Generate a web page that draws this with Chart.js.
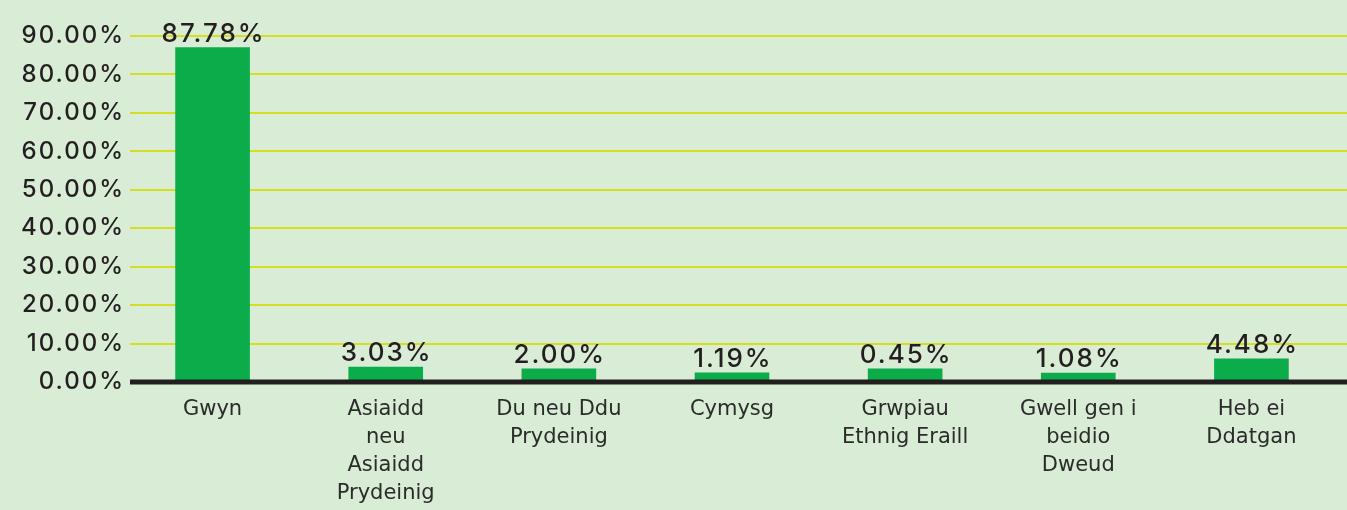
<!DOCTYPE html>
<html>
<head>
<meta charset="utf-8">
<script src="https://cdn.jsdelivr.net/npm/chart.js@4/dist/chart.umd.min.js"></script>
<style>
  html, body { margin: 0; padding: 0; background: #d9ecd6; }
  #wrap { width: 1347px; height: 510px; position: relative; }
</style>
</head>
<body>
<div id="wrap"><canvas id="c"></canvas></div>
<script>
// ---- data ----
const categories = [
  ["Gwyn"],
  ["Asiaidd", "neu", "Asiaidd", "Prydeinig"],
  ["Du neu Ddu", "Prydeinig"],
  ["Cymysg"],
  ["Grwpiau", "Ethnig Eraill"],
  ["Gwell gen i", "beidio", "Dweud"],
  ["Heb ei", "Ddatgan"]
];
// bar heights as drawn in the picture (percent)
const barValues = [87.0, 3.9, 3.4, 2.4, 3.4, 2.3, 6.0];
// value labels printed above the bars
const valueLabels = ["87.78%", "3.03%", "2.00%", "1.19%", "0.45%", "1.08%", "4.48%"];
const yTicks = [0, 10, 20, 30, 40, 50, 60, 70, 80, 90];

const GRID = '#d5df22';
const BAR = '#0dac4b';
const INK = '#231f20';
const NUMFONT = 'Inter, "DejaVu Sans", sans-serif';
const CATFONT = '"DejaVu Sans", Inter, sans-serif';

const gridPlugin = {
  id: 'gridPlugin',
  beforeDatasetsDraw(chart) {
    const ctx = chart.ctx, y = chart.scales.y;
    ctx.save();
    ctx.strokeStyle = GRID;
    ctx.lineWidth = 2;
    yTicks.forEach(v => {
      if (v === 0) return;
      const py = Math.round(y.getPixelForValue(v));
      ctx.beginPath();
      ctx.moveTo(130, py);
      ctx.lineTo(chart.width, py);
      ctx.stroke();
    });
    ctx.restore();
  },
  afterDatasetsDraw(chart) {
    const ctx = chart.ctx, y = chart.scales.y;
    ctx.save();
    const py = y.getPixelForValue(0);
    ctx.fillStyle = INK;
    ctx.fillRect(130, py - 2.5, chart.width - 130, 5);
    const meta = chart.getDatasetMeta(0);
    ctx.fillStyle = INK;
    ctx.letterSpacing = '2px';
    ctx.font = '500 26px ' + NUMFONT;
    ctx.textAlign = 'center';
    ctx.textBaseline = 'alphabetic';
    meta.data.forEach((bar, i) => {
      ctx.fillText(valueLabels[i], bar.x + 1, bar.y - 6);
    });
    ctx.restore();
  }
};

function spacedLabels(scale, spacing) {
  if (scale._spacedWrap) return;
  const orig = scale.drawLabels.bind(scale);
  scale.drawLabels = function (area) {
    const ctx = scale.ctx;
    ctx.save();
    ctx.letterSpacing = spacing;
    orig(area);
    ctx.restore();
  };
  scale._spacedWrap = true;
}

new Chart(document.getElementById('c'), {
  type: 'bar',
  data: {
    labels: categories,
    datasets: [{
      data: barValues,
      backgroundColor: BAR,
      borderWidth: 0,
      barThickness: 74
    }]
  },
  options: {
    responsive: true,
    maintainAspectRatio: false,
    animation: false,
    layout: { padding: { top: 36, right: 9, left: 0, bottom: 0 } },
    plugins: { legend: { display: false }, tooltip: { enabled: false } },
    scales: {
      x: {
        afterFit(scale) { scale.height = 128; },
        grid: { display: false, drawTicks: false },
        border: { display: false },
        ticks: {
          color: '#2b2b2b',
          font: { family: CATFONT, size: 21, weight: 400, lineHeight: 1.333 },
          padding: 14,
          maxRotation: 0,
          autoSkip: false
        }
      },
      y: {
        min: 0,
        max: 90,
        afterFit(scale) { scale.width = 126; spacedLabels(scale, '2px'); },
        afterBuildTicks(scale) { scale.ticks = yTicks.map(v => ({ value: v })); },
        grid: { display: false, drawTicks: false },
        border: { display: false },
        ticks: {
          color: INK,
          padding: 1,
          font: { family: NUMFONT, size: 24, weight: 500 },
          callback: v => v.toFixed(2) + '%'
        }
      }
    }
  },
  plugins: [gridPlugin]
});
</script>
</body>
</html>
